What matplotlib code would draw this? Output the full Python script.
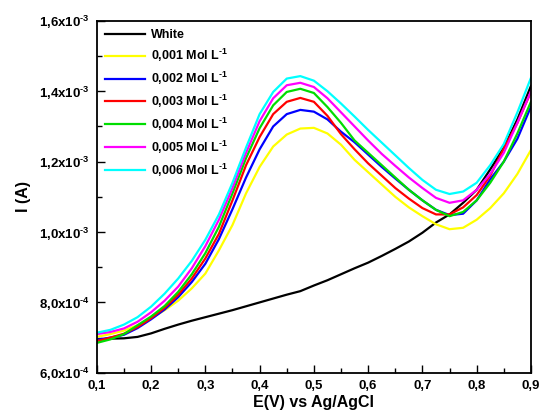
import matplotlib
matplotlib.use("Agg")
import matplotlib.pyplot as plt
from matplotlib.ticker import MultipleLocator, FuncFormatter
import numpy as np

plt.rcParams['font.family'] = ['Liberation Sans', 'DejaVu Sans']
plt.rcParams['font.weight'] = 'bold'
plt.rcParams['mathtext.fontset'] = 'custom'
plt.rcParams['mathtext.rm'] = 'Liberation Sans:bold'
plt.rcParams['mathtext.it'] = 'Liberation Sans:bold'
plt.rcParams['mathtext.bf'] = 'Liberation Sans:bold'
plt.rcParams['mathtext.default'] = 'rm'

potential = [0.100, 0.125, 0.150, 0.175, 0.200, 0.225, 0.250, 0.275, 0.300, 0.325,
             0.350, 0.375, 0.400, 0.425, 0.450, 0.475, 0.500, 0.525, 0.550, 0.575,
             0.600, 0.625, 0.650, 0.675, 0.700, 0.725, 0.750, 0.775, 0.800, 0.825,
             0.850, 0.875, 0.900]

# currents in mA (scaled to A when plotting)
white = [0.694, 0.697, 0.698, 0.702, 0.712, 0.725, 0.737, 0.748, 0.758, 0.768,
         0.778, 0.789, 0.800, 0.811, 0.822, 0.832, 0.848, 0.863, 0.880, 0.897,
         0.913, 0.932, 0.952, 0.973, 0.998, 1.027, 1.050, 1.083, 1.120, 1.178,
         1.240, 1.320, 1.415]
c001 = [0.702, 0.710, 0.720, 0.735, 0.755, 0.778, 0.805, 0.840, 0.882, 0.948,
        1.020, 1.110, 1.185, 1.243, 1.277, 1.294, 1.296, 1.280, 1.248, 1.205,
        1.170, 1.135, 1.100, 1.070, 1.045, 1.022, 1.008, 1.012, 1.035, 1.068,
        1.110, 1.165, 1.233]
c002 = [0.694, 0.700, 0.708, 0.727, 0.752, 0.780, 0.815, 0.858, 0.910, 0.980,
        1.065, 1.155, 1.235, 1.300, 1.335, 1.347, 1.342, 1.320, 1.285, 1.255,
        1.220, 1.185, 1.152, 1.120, 1.090, 1.063, 1.048, 1.052, 1.090, 1.150,
        1.200, 1.265, 1.356]
c003 = [0.690, 0.700, 0.711, 0.730, 0.755, 0.785, 0.822, 0.868, 0.925, 0.995,
        1.090, 1.190, 1.270, 1.335, 1.370, 1.381, 1.370, 1.330, 1.278, 1.235,
        1.195, 1.160, 1.125, 1.095, 1.068, 1.050, 1.050, 1.070, 1.105, 1.160,
        1.237, 1.310, 1.398]
c004 = [0.685, 0.695, 0.710, 0.735, 0.760, 0.790, 0.830, 0.880, 0.940, 1.015,
        1.110, 1.210, 1.295, 1.360, 1.398, 1.407, 1.395, 1.355, 1.310, 1.260,
        1.225, 1.190, 1.155, 1.120, 1.090, 1.063, 1.045, 1.057, 1.090, 1.140,
        1.200, 1.280, 1.370]
c005 = [0.710, 0.716, 0.726, 0.745, 0.772, 0.805, 0.845, 0.897, 0.960, 1.035,
        1.125, 1.225, 1.315, 1.380, 1.417, 1.424, 1.412, 1.380, 1.340, 1.300,
        1.260, 1.222, 1.188, 1.155, 1.125, 1.097, 1.083, 1.090, 1.120, 1.165,
        1.225, 1.310, 1.400]
c006 = [0.714, 0.722, 0.737, 0.758, 0.788, 0.825, 0.868, 0.918, 0.978, 1.050,
        1.140, 1.240, 1.335, 1.398, 1.436, 1.443, 1.430, 1.400, 1.365, 1.328,
        1.290, 1.254, 1.218, 1.182, 1.148, 1.120, 1.108, 1.115, 1.140, 1.190,
        1.250, 1.340, 1.438]

series = [white, c001, c002, c003, c004, c005, c006]
labels = ['White', r'0,001 Mol L$^{\text{-}1}$', r'0,002 Mol L$^{\text{-}1}$',
          r'0,003 Mol L$^{\text{-}1}$', r'0,004 Mol L$^{\text{-}1}$',
          r'0,005 Mol L$^{\text{-}1}$', r'0,006 Mol L$^{\text{-}1}$']
colors = ['#000000', '#ffff00', '#0000ff', '#ff0000', '#00dd00', '#ff00ff', '#00ffff']

fig = plt.figure(figsize=(5.44, 4.17), dpi=100)
ax = fig.add_axes([0.178, 0.106, 0.798, 0.844])

x = np.array(potential)
for ys, lab, col in zip(series, labels, colors):
    ax.plot(x, np.array(ys) * 1e-3, color=col, lw=1.6, label=lab)

ax.set_xlim(0.1, 0.9)
ax.set_ylim(6e-4, 1.6e-3)
ax.xaxis.set_major_locator(MultipleLocator(0.1))
ax.xaxis.set_minor_locator(MultipleLocator(0.05))
ax.yaxis.set_major_locator(MultipleLocator(2e-4))
ax.yaxis.set_minor_locator(MultipleLocator(1e-4))

def xfmt(v, pos):
    return ('%.1f' % v).replace('.', ',')

def yfmt(v, pos):
    e = int(np.floor(np.log10(abs(v)) + 1e-9))
    m = v / 10 ** e
    return ('%.1f' % m).replace('.', ',') + r'x10$^{\text{-}%d}$' % abs(e)

ax.xaxis.set_major_formatter(FuncFormatter(xfmt))
ax.yaxis.set_major_formatter(FuncFormatter(yfmt))

ax.tick_params(which='both', direction='in', top=False, right=False, width=1.0)
ax.tick_params(which='major', length=6, labelsize=9.5, pad=5)
ax.tick_params(which='minor', length=3.5)
for lab in ax.get_xticklabels() + ax.get_yticklabels():
    lab.set_fontweight('bold')
for sp in ax.spines.values():
    sp.set_linewidth(1.3)

ax.set_xlabel('E(V) vs Ag/AgCl', fontsize=11.5, fontweight='bold', labelpad=2)
ax.set_ylabel('I (A)', fontsize=11.5, fontweight='bold', labelpad=6)

leg = ax.legend(loc='upper left', frameon=False, fontsize=9, handlelength=3.2,
                handletextpad=0.5, labelspacing=0.46, borderaxespad=0.0,
                borderpad=0.65)
for t in leg.get_texts():
    t.set_fontweight('bold')

fig.savefig('out.png', dpi=100)
